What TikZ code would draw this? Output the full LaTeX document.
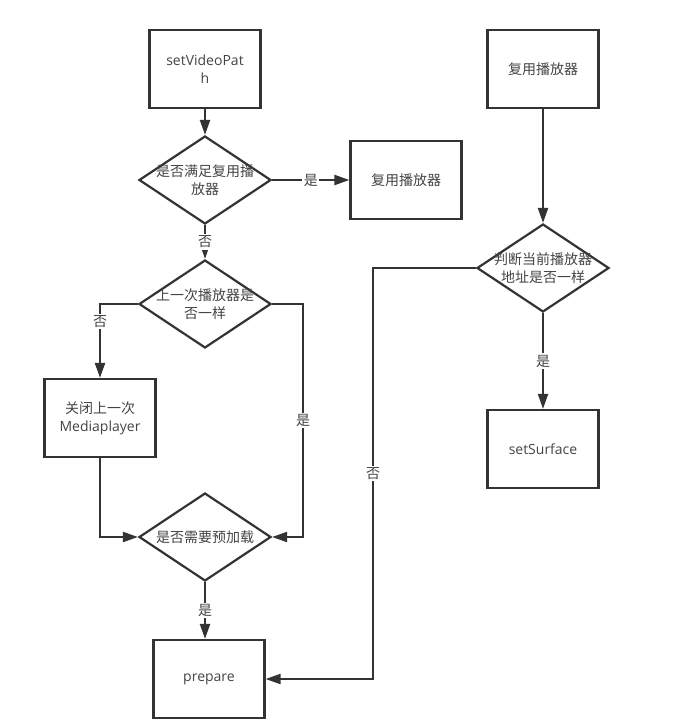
\documentclass[tikz,border=0pt]{standalone}
\usepackage{fontspec}
\setmainfont{Open Sans}
\newfontfamily\cjk{Noto Sans CJK SC}
\usetikzlibrary{shapes.geometric,arrows.meta}
\definecolor{lc}{HTML}{333333}
\definecolor{tc}{HTML}{444444}
\newcommand{\fs}{\fontsize{14}{18}\selectfont}
\tikzset{
  box/.style={draw=lc, line width=2.2pt, minimum width=111pt, minimum height=78pt, inner sep=0pt, align=center, text=tc, font=\fs},
  dia/.style={draw=lc, line width=2.2pt, diamond, minimum width=132pt, minimum height=88pt, inner sep=0pt},
  dtext/.style={align=center, text=tc, font=\fs\cjk, inner sep=0pt},
  conn/.style={draw=lc, line width=2.2pt, -{Triangle[length=15pt,width=10pt]}},
  lab/.style={fill=white, text=tc, font=\fs\cjk, inner sep=1.5pt},
}
\begin{document}
\begin{tikzpicture}[x=1pt,y=-1pt]
\useasboundingbox (0,0) rectangle (680,727);
% left column
\node[box] (svp) at (205,69) {setVideoPat\\h};
\node[dia] (d1) at (205,180) {};
\node[dtext] (t1) at (d1) {是否满足复用播\\放器};
\node[box, font=\fs\cjk] (reuseL) at (406,180) {复用播放器};
\node[dia] (d2) at (205,304) {};
\node[dtext] (t2) at (d2) {上一次播放器是\\否一样};
\node[box] (close) at (100,418) {{\cjk 关闭上一次}\\Mediaplayer};
\node[dia] (d3) at (205,537) {};
\node[dtext] (t3) at (d3) {是否需要预加载};
\node[box] (prep) at (209,679) {prepare};
% right column
\node[box, font=\fs\cjk] (reuseR) at (543,69) {复用播放器};
\node[dia] (d4) at (543,268) {};
\node[dtext] (t4) at (d4) {判断当前播放器\\地址是否一样};
\node[box] (surf) at (543,449) {setSurface};
\coordinate (c1) at (303,304);
\coordinate (c2) at (373,268);
% connectors
\draw[conn] (svp) -- (d1);
\draw[conn] (d1.east) -- node[lab] {是} (reuseL.west);
\draw[conn] (d1.south) -- node[lab] {否} (d2.north);
\draw[conn] (d2.west) -| node[lab, pos=0.62] {否} (close.north);
\draw[conn] (d2.east) -- (c1) |- node[lab, pos=0.25] {是} (d3.east);
\draw[conn] (close.south) |- (d3.west);
\draw[conn] (d3.south) -- node[lab] {是} (prep.north -| d3.south);
\draw[conn] (reuseR) -- (d4);
\draw[conn] (d4.south) -- node[lab] {是} (surf.north);
\draw[conn] (d4.west) -- (c2) |- node[lab, pos=0.25] {否} (prep.east);
\end{tikzpicture}
\end{document}
